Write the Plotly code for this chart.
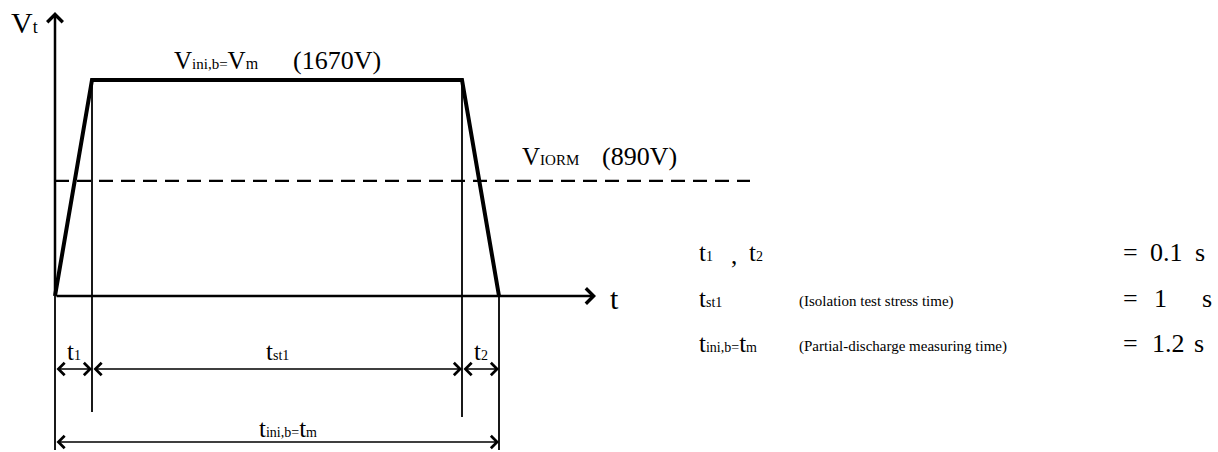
import plotly.graph_objects as go

# test profile values
t1 = 0.1          # s, ramp up
t_st1 = 1.0       # s, isolation test stress time
t2 = 0.1          # s, ramp down
V_m = 1670        # V, V_ini,b = V_m
V_iorm = 890      # V

wave_t = [0, t1, t1 + t_st1, t1 + t_st1 + t2]
wave_v = [0, V_m, V_m, 0]

table_names = ["t1", "tst1", "tini,b=tm"]
table_notes = ["", "(Isolation test stress time)", "(Partial-discharge measuring time)"]
table_values = ["0.1", "1", "1.2"]

W, H = 1218, 452
X0, Y0 = 55, 296          # pixel position of the origin
SX = 370.0                # px per second
SY = 216.0 / V_m          # px per volt


def tx(px):
    return (px - X0) / SX


def vy(py):
    return (Y0 - py) / SY


def small(s, size=14):
    # subscript drawn small, close to the baseline
    return '<span style="font-size:%dpx">%s</span>' % (size, s)


SUB = {
    "t1": "t" + small("1"),
    "t2": "t" + small("2"),
    "tst1": "t" + small("st1"),
    "tini,b=tm": "t" + small("ini,b=") + "t" + small("m"),
}

SERIF = "Liberation Serif, Times New Roman, serif"
BLACK = "black"
t_end = wave_t[-1]

fig = go.Figure()

# pulse shape
fig.add_trace(go.Scatter(x=wave_t, y=wave_v, mode="lines",
                         line=dict(color=BLACK, width=4), hoverinfo="skip"))
# V_IORM level
fig.add_trace(go.Scatter(x=[0, tx(750)], y=[V_iorm, V_iorm], mode="lines",
                         line=dict(color=BLACK, width=2.2, dash="14px,8px"),
                         hoverinfo="skip"))
# extension lines
ext = [(0, 0, vy(450)), (wave_t[1], V_m, vy(412)),
       (wave_t[2], V_m, vy(417)), (t_end, 0, vy(450))]
for xt, ya, yb in ext:
    fig.add_trace(go.Scatter(x=[xt, xt], y=[ya, yb], mode="lines",
                             line=dict(color=BLACK, width=1.8), hoverinfo="skip"))

ann = []


def arrow(x0, y0, x1, y1, width, both=False, size=1.0):
    d = dict(x=x1, y=y1, ax=x0, ay=y0, xref="x", yref="y", axref="x", ayref="y",
             text="", showarrow=True, arrowhead=4, arrowsize=size,
             arrowwidth=width, arrowcolor=BLACK, standoff=0)
    if both:
        d.update(arrowside="end+start", startarrowhead=4, startarrowsize=size,
                 startstandoff=0)
    ann.append(d)


def label(px, py, text, size, anchor="left"):
    ann.append(dict(x=tx(px), y=vy(py), xref="x", yref="y", text=text,
                    showarrow=False, xanchor=anchor, yanchor="middle",
                    font=dict(family=SERIF, size=size, color=BLACK)))


# axes
arrow(0, 0, 0, vy(12), 2.5, size=1.2)
arrow(0, 0, tx(596), 0, 2.5, size=1.2)

# dimension arrows
y_dim1 = vy(369)
y_dim2 = vy(442)
arrow(0, y_dim1, wave_t[1], y_dim1, 1.5, both=True, size=1.6)
arrow(wave_t[1], y_dim1, wave_t[2], y_dim1, 1.5, both=True, size=1.6)
arrow(wave_t[2], y_dim1, t_end, y_dim1, 1.5, both=True, size=1.6)
arrow(0, y_dim2, t_end, y_dim2, 1.5, both=True, size=1.6)

# labels on the chart
label(24, 22, "V" + small("t", 18), 30, "center")
label(614, 298, "t", 30, "center")
label(172, 60, "V" + small("ini,b=", 15) + "V" + small("m", 16), 25)
label(291, 60, "(%dV)" % V_m, 26)
label(520, 156, "V" + small("IORM", 15), 25)
label(600, 156, "(%dV)" % V_iorm, 26)
label(74, 351, SUB["t1"], 25, "center")
label(277, 351, SUB["tst1"], 25, "center")
label(481, 351, SUB["t2"], 25, "center")
label(288, 428, SUB["tini,b=tm"], 25, "center")

# table on the right
rows_y = [252, 298, 343]
label(697, rows_y[0], SUB["t1"], 25)
label(729, rows_y[0] + 3, ",", 25)
label(747, rows_y[0], SUB["t2"], 25)
for i in (1, 2):
    label(697, rows_y[i], SUB[table_names[i]], 25)
    label(797, rows_y[i] + 3, table_notes[i], 15)
s_x = [1193, 1200, 1192]
v_x = [1148, 1152, 1150]
for i in range(3):
    label(1121, rows_y[i], "=", 26)
    label(v_x[i], rows_y[i], table_values[i], 26)
    label(s_x[i], rows_y[i], "s", 26)

fig.update_layout(
    width=W, height=H,
    margin=dict(l=0, r=0, t=0, b=0),
    paper_bgcolor="white", plot_bgcolor="white",
    showlegend=False,
    xaxis=dict(range=[tx(0), tx(W)], visible=False, fixedrange=True),
    yaxis=dict(range=[vy(H), vy(0)], visible=False, fixedrange=True),
    annotations=ann,
)

fig.write_html("out.html", config={"displayModeBar": False},
               post_script="document.body.style.margin='0';")
